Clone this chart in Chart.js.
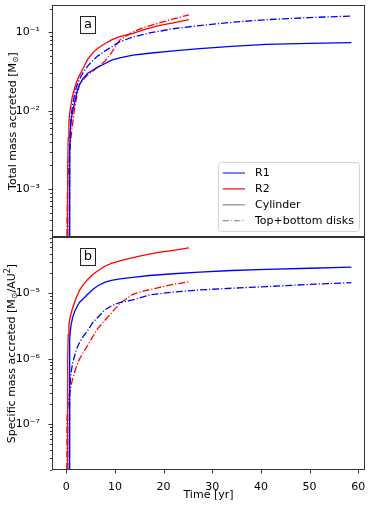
<!DOCTYPE html>
<html>
<head>
<meta charset="utf-8">
<script src="https://cdn.jsdelivr.net/npm/chart.js@4/dist/chart.umd.min.js"></script>
<style>
  html, body { margin: 0; padding: 0; background: #fff; }
  #wrap { position: relative; width: 371px; height: 505px; }
  canvas { position: absolute; left: 0; }
  #top { top: 0; }
  #bot { top: 232px; }
</style>
</head>
<body>
<div id="wrap">
  <canvas id="top" width="371" height="238"></canvas>
  <canvas id="bot" width="371" height="273"></canvas>
</div>
<script>
// time grids [yr]
const tR1 = [0.62, 0.66, 0.7, 0.75, 0.85, 1.0, 1.3, 1.7, 2.1, 2.7, 3.5, 4.4, 5.5, 6.5, 8.0, 9.3, 11, 13.7, 17.1, 22, 27.4, 34, 41.1, 50, 58.6];
const tR2 = [0.1, 0.15, 0.25, 0.3, 0.4, 0.55, 0.7, 0.9, 1.2, 1.7, 2.1, 2.7, 3.5, 4.4, 5.5, 6.5, 8.0, 9.3, 11, 13.7, 16, 19, 22, 25.2];

// panel a: total mass accreted [Msun]
const massR1Cyl  = [1e-5, 3e-4, 0.0015, 0.003, 0.0055, 0.0075, 0.0098, 0.0125, 0.0165, 0.0215, 0.026, 0.030, 0.033, 0.036, 0.040, 0.044, 0.047, 0.051, 0.054, 0.058, 0.062, 0.066, 0.070, 0.072, 0.074];
const massR1Disk = [1e-5, 3e-4, 0.0018, 0.0035, 0.0062, 0.0085, 0.0118, 0.0158, 0.020, 0.025, 0.031, 0.037, 0.044, 0.050, 0.058, 0.065, 0.076, 0.087, 0.098, 0.111, 0.122, 0.134, 0.145, 0.154, 0.161];
const massR2Cyl  = [null, null, 1e-5, 0.002, 0.0045, 0.0072, 0.0092, 0.0112, 0.0145, 0.0193, 0.023, 0.028, 0.035, 0.045, 0.055, 0.0625, 0.072, 0.080, 0.088, 0.097, 0.108, 0.122, 0.132, 0.145];
const massR2Disk = [1e-5, 4e-4, 9e-4, 0.0011, 0.0015, 0.0022, 0.003, 0.0042, 0.006, 0.0105, 0.0145, 0.0214, 0.025, 0.0285, 0.032, 0.036, 0.043, 0.055, 0.080, 0.101, 0.116, 0.131, 0.148, 0.167];

// panel b: specific mass accreted [Msun/AU^2]
const specR1Cyl  = [1e-9, 3e-7, 1.2e-6, 2.0e-6, 2.7e-6, 3.3e-6, 4.2e-6, 5.2e-6, 6.0e-6, 7.2e-6, 8.2e-6, 9.6e-6, 1.15e-5, 1.3e-5, 1.47e-5, 1.57e-5, 1.65e-5, 1.74e-5, 1.86e-5, 1.98e-5, 2.1e-5, 2.22e-5, 2.3e-5, 2.4e-5, 2.49e-5];
const specR1Disk = [1e-9, 8e-8, 2.5e-7, 3.5e-7, 4.8e-7, 6.2e-7, 8.5e-7, 1.1e-6, 1.4e-6, 1.75e-6, 2.2e-6, 2.7e-6, 3.6e-6, 4.3e-6, 5.6e-6, 6.4e-6, 7.2e-6, 7.9e-6, 9.4e-6, 1.04e-5, 1.12e-5, 1.19e-5, 1.26e-5, 1.36e-5, 1.45e-5];
const specR2Cyl  = [null, null, 1e-9, 1.0e-6, 2.3e-6, 3.2e-6, 3.9e-6, 4.6e-6, 5.6e-6, 7.2e-6, 8.7e-6, 1.1e-5, 1.35e-5, 1.62e-5, 1.95e-5, 2.2e-5, 2.6e-5, 2.85e-5, 3.1e-5, 3.5e-5, 3.8e-5, 4.2e-5, 4.5e-5, 4.9e-5];
const specR2Disk = [1e-9, 1.2e-7, 1.6e-7, 1.8e-7, 2.1e-7, 2.6e-7, 3.0e-7, 3.6e-7, 4.6e-7, 6.2e-7, 7.6e-7, 9.8e-7, 1.25e-6, 1.6e-6, 2.2e-6, 2.9e-6, 3.9e-6, 5.0e-6, 7.0e-6, 9.6e-6, 1.08e-5, 1.22e-5, 1.36e-5, 1.49e-5];

const legendLabels = ['R1', 'R2', 'Cylinder', 'Top+bottom disks'];
const legendColors = ['#4a4aff', '#ff2a2a', '#9a9a9a', '#777777'];

const BLUE = '#0000ff';
const RED = '#ff0000';
const DASHDOT = [7, 2, 1.2, 2];
const FONT = '"DejaVu Sans", sans-serif';

const pts = (t, m) => t.map((x, i) => ({ x, y: m[i] }));

function line(t, m, color, dashed) {
  return {
    data: pts(t, m),
    borderColor: color,
    borderWidth: 1.3,
    borderDash: dashed ? DASHDOT : [],
    pointRadius: 0,
    tension: 0,
    fill: false
  };
}

const SUP = { '-': '⁻', '0': '⁰', '1': '¹', '2': '²', '3': '³', '4': '⁴', '5': '⁵', '6': '⁶', '7': '⁷', '8': '⁸', '9': '⁹' };
function isDecade(v) {
  const l = Math.log10(v);
  return Math.abs(l - Math.round(l)) < 1e-6;
}
function isNice(v) {
  const e = Math.floor(Math.log10(v) + 1e-9);
  const s = v / Math.pow(10, e);
  return Math.abs(s - Math.round(s)) < 1e-6;
}
function decadeLabel(v) {
  if (!isDecade(v)) return '';
  const e = String(Math.round(Math.log10(v)));
  return '10' + e.split('').map(c => SUP[c]).join('');
}

function drawVerticalTitle(ctx, parts, cx, cy) {
  ctx.save();
  ctx.translate(cx, cy);
  ctx.rotate(-Math.PI / 2);
  ctx.textBaseline = 'middle';
  ctx.fillStyle = '#000';
  const fontFor = p => (p[1] ? 8 : 11) + 'px ' + FONT;
  let total = 0;
  for (const p of parts) { ctx.font = fontFor(p); total += ctx.measureText(p[0]).width; }
  let x = -total / 2;
  for (const p of parts) {
    ctx.font = fontFor(p);
    ctx.fillText(p[0], x, p[1] > 0 ? 3 : (p[1] < 0 ? -4 : 0));
    x += ctx.measureText(p[0]).width;
  }
  ctx.restore();
}

// spines, tick marks, panel label, y title, legend
function decorPlugin(opts) {
  return {
    id: 'decor',
    afterDraw(chart) {
      const { ctx, chartArea: a, scales } = chart;
      ctx.save();
      ctx.strokeStyle = '#333';
      ctx.lineWidth = 1;
      ctx.strokeRect(Math.round(a.left) + 0.5, Math.round(a.top) + 0.5, Math.round(a.right - a.left) - 1, Math.round(a.bottom - a.top) - 1);

      const ys = scales.y;
      ys.ticks.forEach(t => {
        const v = t.value;
        if (v < ys.min || v > ys.max || !isNice(v)) return;
        const y = Math.round(ys.getPixelForValue(v)) + 0.5;
        const len = isDecade(v) ? 3.5 : 2;
        ctx.beginPath();
        ctx.moveTo(a.left, y);
        ctx.lineTo(a.left - len, y);
        ctx.stroke();
      });
      if (opts.xTicks) {
        const xs = scales.x;
        xs.ticks.forEach(t => {
          if (t.value < xs.min || t.value > xs.max) return;
          const x = Math.round(xs.getPixelForValue(t.value)) + 0.5;
          ctx.beginPath();
          ctx.moveTo(x, a.bottom);
          ctx.lineTo(x, a.bottom + 3.5);
          ctx.stroke();
        });
      }

      // panel label box
      const bx = Math.round(a.left) + 28.5, by = Math.round(a.top) + 11.5;
      ctx.fillStyle = '#fff';
      ctx.fillRect(bx, by, 15, 17);
      ctx.strokeStyle = '#222';
      ctx.strokeRect(bx, by, 15, 17);
      ctx.fillStyle = '#000';
      ctx.font = '13px ' + FONT;
      ctx.textAlign = 'center';
      ctx.textBaseline = 'middle';
      ctx.fillText(opts.panel, bx + 7.5, by + 8.5);
      ctx.textAlign = 'left';

      drawVerticalTitle(ctx, opts.title, opts.titleX, (a.top + a.bottom) / 2);

      if (opts.legend) {
        const lx = 218.5, ly = 162.5, lw = 141, lh = 69, r = 3;
        ctx.beginPath();
        ctx.roundRect(lx, ly, lw, lh, r);
        ctx.fillStyle = 'rgba(255,255,255,0.85)';
        ctx.fill();
        ctx.strokeStyle = '#d4d4d4';
        ctx.stroke();
        ctx.font = '11px ' + FONT;
        ctx.textBaseline = 'middle';
        legendLabels.forEach((lab, i) => {
          const y = 173 + i * 15.9;
          ctx.beginPath();
          ctx.strokeStyle = legendColors[i];
          ctx.lineWidth = i === 3 ? 1 : 1.4;
          ctx.setLineDash(i === 3 ? [6, 2, 1, 2] : []);
          ctx.moveTo(222.7, y);
          ctx.lineTo(245, y);
          ctx.stroke();
          ctx.setLineDash([]);
          ctx.fillStyle = '#000';
          ctx.fillText(lab, 255, y);
        });
      }
      ctx.restore();
    }
  };
}

function xScale(display) {
  return {
    type: 'linear',
    min: -2.93,
    max: 61.4,
    display,
    grid: { display: false },
    border: { display: false },
    ticks: {
      stepSize: 10,
      includeBounds: false,
      autoSkip: false,
      maxRotation: 0,
      padding: 3,
      color: '#000',
      font: { family: FONT, size: 11 }
    },
    title: {
      display: true,
      text: 'Time [yr]',
      color: '#000',
      font: { family: FONT, size: 11 },
      padding: { top: 0, bottom: 3 }
    },
    afterFit(s) {
      s.height = display ? 35 : 0;
      s.paddingLeft = 0;
      s.paddingRight = 0;
    }
  };
}

function yScale(min, max) {
  return {
    type: 'logarithmic',
    min,
    max,
    grid: { display: false },
    border: { display: false },
    ticks: {
      autoSkip: false,
      padding: 4,
      color: '#000',
      font: { family: FONT, size: 11 },
      callback: v => decadeLabel(v)
    },
    afterFit(s) {
      s.width = 52;
      s.paddingTop = 0;
      s.paddingBottom = 0;
    }
  };
}

const common = {
  responsive: false,
  animation: false,
  events: [],
  plugins: { legend: { display: false }, tooltip: { enabled: false } }
};

new Chart(document.getElementById('top'), {
  type: 'line',
  data: {
    datasets: [
      line(tR1, massR1Cyl, BLUE, false),
      line(tR1, massR1Disk, BLUE, true),
      line(tR2, massR2Cyl, RED, false),
      line(tR2, massR2Disk, RED, true)
    ]
  },
  options: {
    ...common,
    layout: { padding: { top: 5, right: 6, bottom: 1, left: 0 } },
    scales: { x: xScale(false), y: yScale(2.44e-4, 0.223) }
  },
  plugins: [decorPlugin({
    panel: 'a',
    titleX: 13,
    legend: true,
    title: [['Total mass accreted [M', 0], ['⊙', 1], [']', 0]]
  })]
});

new Chart(document.getElementById('bot'), {
  type: 'line',
  data: {
    datasets: [
      line(tR1, specR1Cyl, BLUE, false),
      line(tR1, specR1Disk, BLUE, true),
      line(tR2, specR2Cyl, RED, false),
      line(tR2, specR2Disk, RED, true)
    ]
  },
  options: {
    ...common,
    layout: { padding: { top: 5, right: 6, bottom: 0, left: 0 } },
    scales: { x: xScale(true), y: yScale(2.0e-8, 7.2e-5) }
  },
  plugins: [decorPlugin({
    panel: 'b',
    titleX: 12,
    xTicks: true,
    title: [['Specific mass accreted [M', 0], ['⊙', 1], ['/AU', 0], ['2', -1], [']', 0]]
  })]
});
</script>
</body>
</html>
